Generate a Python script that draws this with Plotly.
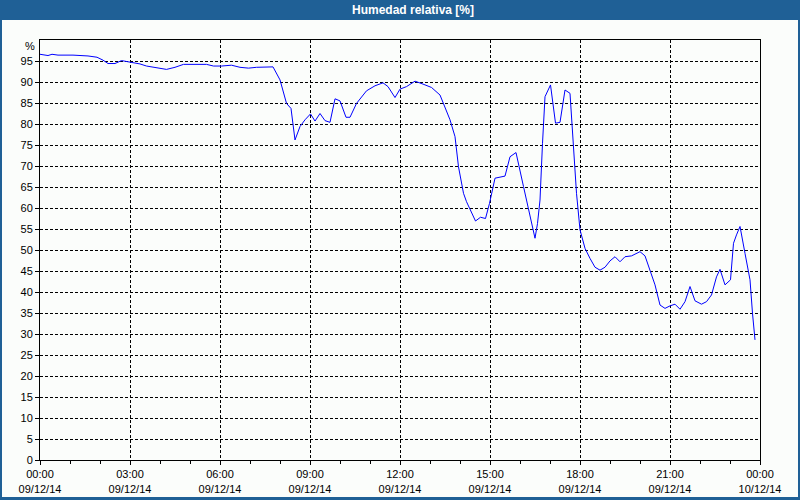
import plotly.graph_objects as go
from datetime import datetime, timedelta

# minutes after 09/12/14 00:00
minutes = [0, 16, 24, 36, 66, 96, 114, 126, 136, 150, 163, 180, 200, 213, 237, 253, 270, 287,
           333, 347, 363, 383, 400, 417, 433, 453, 466, 480, 493, 502, 510, 520, 530, 541, 550,
           560, 570, 580, 590, 600, 612, 620, 633, 653, 670, 686, 696, 710, 720, 733, 750, 766,
           783, 800, 813, 820, 830, 837, 847, 853, 871, 881, 891, 899, 910, 930, 940, 952, 967,
           980, 990, 995, 1000, 1005, 1010, 1021, 1031, 1040, 1050, 1060, 1067, 1073, 1080, 1090,
           1100, 1110, 1120, 1130, 1140, 1150, 1160, 1170, 1183, 1200, 1210, 1220, 1230, 1240,
           1250, 1260, 1270, 1280, 1290, 1300, 1310, 1323, 1333, 1343, 1353, 1360, 1370, 1381,
           1387, 1393, 1400, 1410, 1420, 1425, 1430]
humidity = [96.6, 96.3, 96.6, 96.4, 96.4, 96.2, 95.9, 95.2, 94.4, 94.4, 95.1, 94.8, 94.3, 93.8,
            93.3, 93.0, 93.5, 94.2, 94.2, 93.8, 93.8, 94.0, 93.5, 93.3, 93.5, 93.5, 93.6, 90.5,
            84.9, 83.7, 76.2, 79.4, 81.0, 82.4, 80.7, 82.5, 80.8, 80.4, 86.0, 85.5, 81.6, 81.6,
            84.9, 87.9, 89.1, 89.8, 88.9, 86.3, 88.3, 88.9, 90.2, 89.5, 88.7, 86.9, 83.3, 81.0,
            77.0, 69.8, 63.5, 61.5, 56.9, 57.8, 57.5, 61.1, 67.1, 67.6, 72.2, 73.2, 65.1, 58.0,
            52.8, 56.3, 61.9, 75.4, 86.5, 89.3, 80.2, 80.4, 88.1, 87.3, 75.4, 63.5, 54.8, 50.4,
            48.0, 45.9, 45.2, 45.9, 47.4, 48.4, 47.2, 48.4, 48.6, 49.6, 48.6, 45.2, 41.7, 36.9,
            36.1, 36.7, 37.1, 35.9, 37.7, 41.3, 37.9, 37.1, 37.7, 39.3, 43.6, 45.4, 41.7, 42.9,
            51.6, 53.6, 55.6, 49.2, 42.9, 34.9, 28.6]

x_tickvals = ["2014-12-09 00:00", "2014-12-09 03:00", "2014-12-09 06:00", "2014-12-09 09:00",
              "2014-12-09 12:00", "2014-12-09 15:00", "2014-12-09 18:00", "2014-12-09 21:00",
              "2014-12-10 00:00"]
x_ticktext = ["00:00<br>09/12/14", "03:00<br>09/12/14", "06:00<br>09/12/14", "09:00<br>09/12/14",
              "12:00<br>09/12/14", "15:00<br>09/12/14", "18:00<br>09/12/14", "21:00<br>09/12/14",
              "00:00<br>10/12/14"]
y_tickvals = list(range(0, 100, 5))
title_text = "Humedad relativa [%]"
unit_label = "%"

start = datetime(2014, 12, 9)
times = [start + timedelta(minutes=m) for m in minutes]

W, H = 800, 500
L, R, T, B = 40, 40, 40, 40
pw, ph = W - L - R, H - T - B

def px(xp):
    return (xp - L) / pw

def py(yp):
    return (H - B - yp) / ph

BLUE = "#1F6096"
BG = "#FBFDFB"

fig = go.Figure()
fig.add_trace(go.Scatter(x=times, y=humidity, mode="lines",
                         line=dict(color="#0000FF", width=1), hoverinfo="skip"))

font = dict(family="Liberation Sans, Arial, sans-serif", size=11, color="#000000")

fig.update_layout(
    width=W, height=H, autosize=False,
    margin=dict(l=L, r=R, t=T, b=B, autoexpand=False),
    paper_bgcolor=BG, plot_bgcolor=BG,
    showlegend=False, font=font,
    xaxis=dict(type="date", range=["2014-12-09 00:00", "2014-12-10 00:00"],
               tickmode="array", tickvals=x_tickvals, ticktext=x_ticktext,
               showgrid=True, gridcolor="#000000", griddash="3px,2px", gridwidth=1,
               showline=True, linecolor="#000000", linewidth=1, mirror=True,
               ticks="outside", ticklen=4, tickcolor="#000000",
               minor=dict(dtick=3600000, ticks="outside", ticklen=3, tickcolor="#000000",
                          showgrid=False),
               zeroline=False, tickfont=font, automargin=False),
    yaxis=dict(range=[0, 100], tickmode="array", tickvals=y_tickvals,
               showgrid=True, gridcolor="#000000", griddash="3px,2px", gridwidth=1,
               showline=True, linecolor="#000000", linewidth=1, mirror=True,
               ticks="outside", ticklen=4, tickcolor="#000000",
               zeroline=False, tickfont=font, automargin=False),
    shapes=[
        dict(type="rect", xref="paper", yref="paper", x0=px(0), x1=px(W), y0=py(20), y1=py(0),
             fillcolor=BLUE, line=dict(width=0), layer="above"),
        dict(type="rect", xref="paper", yref="paper", x0=px(0), x1=px(2), y0=py(H), y1=py(0),
             fillcolor=BLUE, line=dict(width=0), layer="above"),
        dict(type="rect", xref="paper", yref="paper", x0=px(W - 2), x1=px(W), y0=py(H), y1=py(0),
             fillcolor=BLUE, line=dict(width=0), layer="above"),
        dict(type="rect", xref="paper", yref="paper", x0=px(0), x1=px(W), y0=py(H), y1=py(H - 3),
             fillcolor=BLUE, line=dict(width=0), layer="above"),
    ],
    annotations=[
        dict(text="<b>" + title_text + "</b>", xref="paper", yref="paper",
             x=px(413), y=py(10), xanchor="center", yanchor="middle", showarrow=False,
             font=dict(family="Liberation Sans, Arial, sans-serif", size=12, color="#FFFFFF")),
        dict(text=unit_label, xref="paper", yref="paper", x=px(37), y=py(46),
             xanchor="right", yanchor="middle", showarrow=False, font=font),
    ],
)

fig.write_html("out.html")
